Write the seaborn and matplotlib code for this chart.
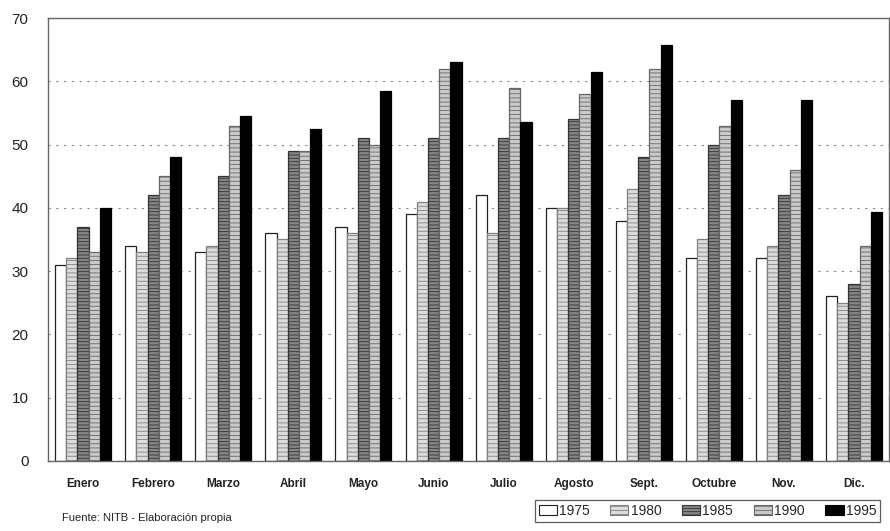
import matplotlib
matplotlib.use("Agg")
import matplotlib.pyplot as plt
from matplotlib.patches import Patch
import seaborn as sns
import pandas as pd

months = ["Enero", "Febrero", "Marzo", "Abril", "Mayo", "Junio", "Julio",
          "Agosto", "Sept.", "Octubre", "Nov.", "Dic."]
years = ["1975", "1980", "1985", "1990", "1995"]
v1975 = [31, 34, 33, 36, 37, 39, 42, 40, 38, 32, 32, 26]
v1980 = [32, 33, 34, 35, 36, 41, 36, 40, 43, 35, 34, 25]
v1985 = [37, 42, 45, 49, 51, 51, 51, 54, 48, 50, 42, 28]
v1990 = [33, 45, 53, 49, 50, 62, 59, 58, 62, 53, 46, 34]
v1995 = [40, 48, 54.5, 52.5, 58.5, 63, 53.5, 61.5, 65.8, 57, 57, 39.3]
yticks = [0, 10, 20, 30, 40, 50, 60, 70]
source = "Fuente: NITB - Elaboración propia"

series = [v1975, v1980, v1985, v1990, v1995]
rows = []
for y, vals in zip(years, series):
    for m, v in zip(months, vals):
        rows.append({"Mes": m, "Año": y, "Valor": v})
df = pd.DataFrame(rows)

sns.set_style("white")
plt.rcParams["font.family"] = ["Liberation Sans", "DejaVu Sans"]
plt.rcParams["hatch.linewidth"] = 0.6

styles = [
    dict(facecolor="white", edgecolor="#222222", hatch=None),
    dict(facecolor="#dcdcdc", edgecolor="#808080", hatch="----"),
    dict(facecolor="#858585", edgecolor="#333333", hatch="-----"),
    dict(facecolor="#cacaca", edgecolor="#666666", hatch="----"),
    dict(facecolor="black", edgecolor="black", hatch=None),
]

fig = plt.figure(figsize=(8.9, 5.31), dpi=100)
ax = fig.add_axes([0.054, 0.132, 0.945, 0.834])

sns.barplot(data=df, x="Mes", y="Valor", hue="Año", order=months,
            hue_order=years, width=0.8, ax=ax, legend=False,
            palette=["white"] * 5, saturation=1, err_kws={"linewidth": 0})

for cont, st in zip(ax.containers, styles):
    for p in cont.patches:
        p.set_facecolor(st["facecolor"])
        p.set_edgecolor(st["edgecolor"])
        p.set_linewidth(0.9)
        if st["hatch"]:
            p.set_hatch(st["hatch"])

ax.set_ylim(0, 70)
ax.set_xlim(-0.5, len(months) - 0.5)
ax.set_yticks(yticks)
ax.set_yticklabels([str(t) for t in yticks], fontsize=11, color="#222222")
ax.tick_params(axis="x", length=0, pad=12)
ax.tick_params(axis="y", length=0, pad=14)
for lab in ax.get_xticklabels():
    lab.set_fontsize(8.5)
    lab.set_fontweight("bold")
    lab.set_color("#222222")
ax.set_xlabel("")
ax.set_ylabel("")
ax.yaxis.grid(True, linestyle=(0, (2, 5)), color="#888888", linewidth=0.8)
ax.set_axisbelow(True)
for s in ax.spines.values():
    s.set_color("#666666")
    s.set_linewidth(1.0)

handles = [Patch(facecolor=st["facecolor"], edgecolor=st["edgecolor"],
                 hatch=st["hatch"], linewidth=0.8) for st in styles]
leg = fig.legend(handles, years, loc="lower right", ncol=5,
                 bbox_to_anchor=(0.997, 0.004), fontsize=10, frameon=True,
                 fancybox=False, edgecolor="#333333", handlelength=1.3,
                 handleheight=0.8, handletextpad=0.15, columnspacing=1.5,
                 borderpad=0.3)
leg.get_frame().set_linewidth(0.9)

fig.text(0.07, 0.018, source, fontsize=8, color="#222222")

fig.savefig("out.png", dpi=100)
